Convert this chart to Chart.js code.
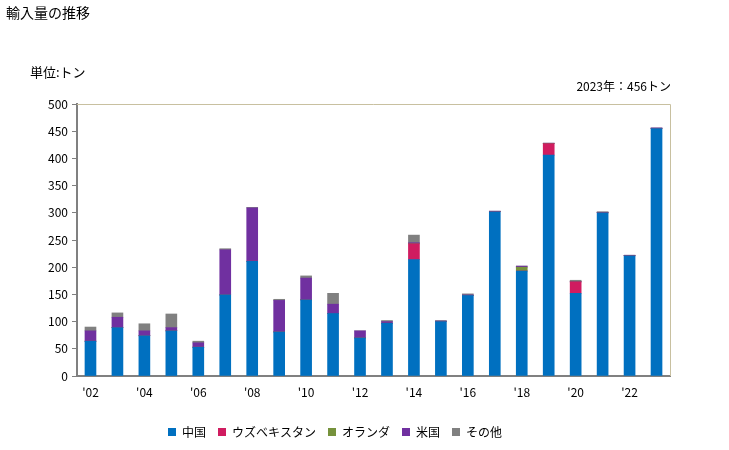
<!DOCTYPE html>
<html>
<head>
<meta charset="UTF-8">
<title>輸入量の推移</title>
<script src="https://cdn.jsdelivr.net/npm/chart.js@4"></script>
<style>
  body { margin: 0; background: #fff; }
  #wrap { width: 729px; height: 450px; }
</style>
</head>
<body>
<div id="wrap"><canvas id="mychart" width="729" height="450"></canvas></div>
<script>
const FONT = "'Noto Sans CJK JP', sans-serif";

const years = [2002, 2003, 2004, 2005, 2006, 2007, 2008, 2009, 2010, 2011, 2012,
  2013, 2014, 2015, 2016, 2017, 2018, 2019, 2020, 2021, 2022, 2023];
const china       = [64, 89, 74, 83, 53, 149, 211, 81, 140, 115, 70, 97, 214, 100, 148, 302, 193, 406, 152, 300, 221, 455];
const uzbekistan  = [0, 0, 0, 0, 0, 0, 0, 0, 0, 0, 0, 0, 29, 0, 0, 0, 0, 21, 21, 0, 0, 0];
const netherlands = [0, 0, 0, 0, 0, 0, 0, 0, 0, 0, 0, 0, 0, 0, 0, 0, 7, 0, 0, 0, 0, 0];
const usa         = [19, 19, 9, 6, 8, 83, 98, 58, 40, 17, 13, 3, 2, 1, 1, 1, 2, 1, 1, 1, 1, 1];
const others      = [7, 8, 13, 25, 3, 2, 1, 2, 4, 20, 0, 2, 14, 1, 2, 0, 0, 0, 2, 1, 0, 0];
const yTicks = [0, 50, 100, 150, 200, 250, 300, 350, 400, 450, 500];

const textPlugin = {
  id: 'texts',
  afterDraw(chart) {
    const ctx = chart.ctx;
    const a = chart.chartArea;
    ctx.save();
    // plot border top / right
    ctx.strokeStyle = '#c8c0a0';
    ctx.lineWidth = 1;
    ctx.beginPath();
    ctx.moveTo(a.left, a.top + 0.5);
    ctx.lineTo(a.right + 0.5, a.top + 0.5);
    ctx.lineTo(a.right + 0.5, a.bottom);
    ctx.stroke();
    ctx.fillStyle = '#000';
    ctx.textBaseline = 'middle';
    ctx.font = '14px ' + FONT;
    ctx.textAlign = 'left';
    ctx.fillText('輸入量の推移', 6, 13);
    ctx.font = '13px ' + FONT;
    ctx.fillText('単位:トン', 30, 72);
    ctx.font = '12px ' + FONT;
    ctx.textAlign = 'right';
    ctx.fillText('2023年：456トン', 671, 86);
    ctx.restore();
  }
};

const ctx = document.getElementById('mychart');
new Chart(ctx, {
  type: 'bar',
  data: {
    labels: years,
    datasets: [
      { label: '中国', data: china, backgroundColor: '#0070C0' },
      { label: 'ウズベキスタン', data: uzbekistan, backgroundColor: '#D01C60' },
      { label: 'オランダ', data: netherlands, backgroundColor: '#76923C' },
      { label: '米国', data: usa, backgroundColor: '#7030A0' },
      { label: 'その他', data: others, backgroundColor: '#808080' },
    ],
  },
  options: {
    responsive: false,
    animation: false,
    layout: { padding: { top: 104, right: 59, left: 0, bottom: 2 } },
    datasets: { bar: { barThickness: 11 } },
    plugins: {
      legend: {
        position: 'bottom',
        labels: {
          boxWidth: 8, boxHeight: 8, padding: 12,
          color: '#000',
          font: { family: FONT, size: 12 },
        },
      },
      tooltip: { enabled: false },
    },
    scales: {
      x: {
        stacked: true,
        grid: { display: false },
        border: { display: true, color: '#808080', width: 2 },
        ticks: {
          autoSkip: false, maxRotation: 0, color: '#000', padding: 1,
          font: { family: FONT, size: 12 },
          callback: function (v, i) {
            const y = years[i];
            return y % 2 === 0 ? "'" + String(y).slice(2) : '';
          },
        },
        afterFit(scale) { scale.height = 38; },
      },
      y: {
        stacked: true,
        min: 0, max: 500,
        afterBuildTicks(scale) { scale.ticks = yTicks.map(v => ({ value: v })); },
        grid: { drawOnChartArea: false, color: '#808080', tickLength: 5 },
        border: { display: true, color: '#808080', width: 2 },
        ticks: { color: '#000', padding: 4, font: { family: FONT, size: 12 } },
        afterFit(scale) { scale.width = 77; },
      },
    },
  },
  plugins: [textPlugin],
});
</script>
</body>
</html>
